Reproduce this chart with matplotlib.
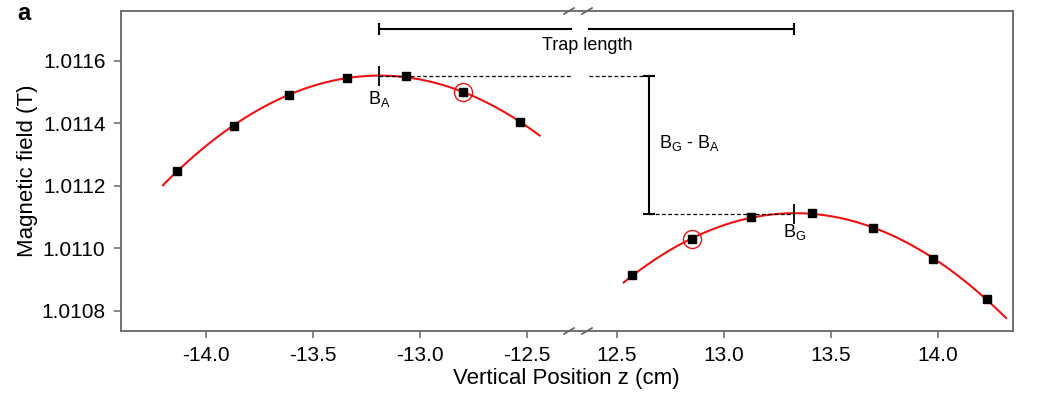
import numpy as np
import matplotlib
matplotlib.use("Agg")
import matplotlib.pyplot as plt
from matplotlib.lines import Line2D
from matplotlib.ticker import FormatStrFormatter

plt.rcParams['font.family'] = ['Liberation Sans', 'DejaVu Sans']
plt.rcParams['mathtext.fontset'] = 'custom'
plt.rcParams['mathtext.rm'] = 'Liberation Sans'
plt.rcParams['mathtext.it'] = 'Liberation Sans'
plt.rcParams['axes.unicode_minus'] = False

# measured field, lower side of the trap (z < 0)
z_left = [-14.136, -13.866, -13.609, -13.338, -13.065, -12.799, -12.530]
b_left = [1.011247, 1.011393, 1.011491, 1.011546, 1.011551, 1.011500, 1.011404]
# measured field, upper side of the trap (z > 0)
z_right = [12.574, 12.850, 13.127, 13.412, 13.700, 13.980, 14.231]
b_right = [1.010913, 1.011029, 1.011100, 1.011112, 1.011065, 1.010965, 1.010836]

# points flagged with a circle
flag_left = 5
flag_right = 1

# extent of the fitted parabolas
fit_left = (-14.20, -12.44)
fit_right = (12.533, 14.319)

# field maxima
z_BA, B_A = -13.19, 1.011552
z_BG, B_G = 13.33, 1.011111
trap_y = 1.011703
diff_x = 12.651

yticks = [1.0108, 1.0110, 1.0112, 1.0114, 1.0116]
xticks_left = [-14.0, -13.5, -13.0, -12.5]
xticks_right = [12.5, 13.0, 13.5, 14.0]

xlim_left = (-14.397, -12.256)
xlim_right = (12.324, 14.352)
ylim = (1.010735, 1.01176)

fig = plt.figure(figsize=(10.5, 3.96), dpi=100)
ax1 = fig.add_axes([0.115, 0.1641, 0.4364, 0.8081])
ax2 = fig.add_axes([0.5514, 0.1641, 0.4134, 0.8081], sharey=ax1)

spine_c = '#666666'
for ax in (ax1, ax2):
    for s in ax.spines.values():
        s.set_color(spine_c)
        s.set_linewidth(1.3)
    ax.tick_params(direction='out', length=5, width=1.1, color=spine_c,
                   labelsize=15, pad=6)
ax1.spines['right'].set_visible(False)
ax2.spines['left'].set_visible(False)
ax2.tick_params(axis='y', left=False, labelleft=False)

ax1.set_xlim(*xlim_left)
ax2.set_xlim(*xlim_right)
ax1.set_ylim(*ylim)
ax1.set_xticks(xticks_left)
ax2.set_xticks(xticks_right)
ax1.set_yticks(yticks)
ax1.yaxis.set_major_formatter(FormatStrFormatter('%.4f'))
ax1.xaxis.set_major_formatter(FormatStrFormatter('%.1f'))
ax2.xaxis.set_major_formatter(FormatStrFormatter('%.1f'))

# parabolic fits and data
for ax, z, b, rng, k in ((ax1, z_left, b_left, fit_left, flag_left),
                         (ax2, z_right, b_right, fit_right, flag_right)):
    coef = np.polyfit(z, b, 2)
    zz = np.linspace(rng[0], rng[1], 200)
    ax.plot(zz, np.polyval(coef, zz), color='#ee1111', lw=1.5, zorder=2)
    ax.plot(z, b, 's', color='black', ms=5.5, zorder=3)
    ax.plot(z[k], b[k], 'o', mfc='none', mec='#ee1111', ms=13, mew=1.0, zorder=3)

# B_A and B_G markers
ax1.plot(z_BA, B_A, '|', color='black', ms=15, mew=1.3)
ax2.plot(z_BG, B_G, '|', color='black', ms=15, mew=1.3)
ax1.text(z_BA, 1.011478, r'B$_\mathrm{A}$', ha='center', va='center', fontsize=13)
ax2.text(z_BG, 1.011052, r'B$_\mathrm{G}$', ha='center', va='center', fontsize=13)

# dashed reference levels
ax1.plot([z_BA, -12.294], [B_A, B_A], ls=(0, (3, 2)), color='black', lw=0.9)
ax2.plot([12.37, diff_x], [B_A, B_A], ls=(0, (3, 2)), color='black', lw=0.9)
ax2.plot([diff_x, z_BG], [B_G, B_G], ls=(0, (3, 2)), color='black', lw=0.9)

# B_G - B_A bar
ax2.plot([diff_x, diff_x], [B_G, B_A], color='black', lw=1.5)
ax2.plot([diff_x, diff_x], [B_G, B_A], ls='none', marker='_', color='black', ms=8, mew=1.5)
ax2.text(12.698, 1.011337, r'B$_\mathrm{G}$ - B$_\mathrm{A}$', ha='left', va='center', fontsize=13)

# trap length bar, from B_A to B_G
ax1.plot([z_BA, -12.294], [trap_y, trap_y], color='black', lw=1.5)
ax1.plot(z_BA, trap_y, '|', color='black', ms=8, mew=1.5)
ax2.plot([12.37, z_BG], [trap_y, trap_y], color='black', lw=1.5)
ax2.plot(z_BG, trap_y, '|', color='black', ms=8, mew=1.5)
fig.text(0.559, 0.886, 'Trap length', ha='center', va='center', fontsize=13)

# axis break marks
for yf in (0.1641, 0.9722):
    for xc in (569, 587):
        xp = np.array([xc - 5, xc + 5]) / 1050
        yp = yf + np.array([-3, 3]) / 396
        fig.add_artist(Line2D(xp, yp, color=spine_c, lw=1.2))

fig.text(0.026, 0.568, 'Magnetic field (T)', rotation=90, ha='center', va='center', fontsize=16)
fig.text(0.539, 0.045, 'Vertical Position z (cm)', ha='center', va='center', fontsize=16)
fig.text(0.016, 0.965, 'a', fontsize=17, fontweight='bold', ha='left', va='center')

fig.savefig('out.png', dpi=100)
